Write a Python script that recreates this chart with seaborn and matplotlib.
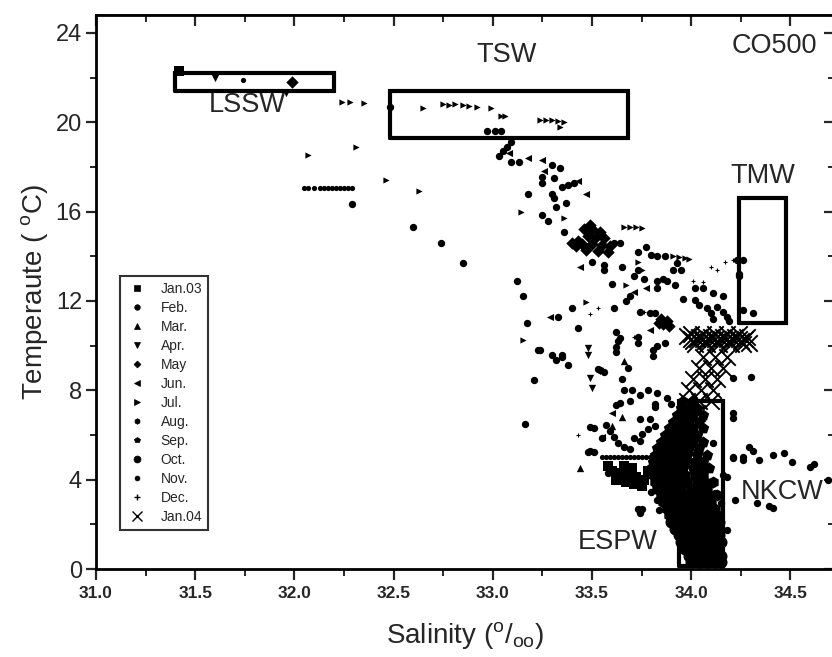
import matplotlib
matplotlib.use("Agg")
import matplotlib.pyplot as plt
from matplotlib.lines import Line2D
from matplotlib.ticker import MultipleLocator
import seaborn as sns
import pandas as pd

# ---------------- data (salinity, temperature) per month ----------------
months = ["Jan.03", "Feb.", "Mar.", "Apr.", "May", "Jun.", "Jul.", "Aug.",
          "Sep.", "Oct.", "Nov.", "Dec.", "Jan.04"]

jan03_pts = [(31.42, 22.3), (33.58, 4.6), (33.60, 4.4), (33.64, 4.3), (33.68, 4.2),
             (33.72, 4.1), (33.76, 4.0), (33.62, 4.0), (33.67, 3.9), (33.71, 3.8),
             (33.75, 3.7), (33.78, 4.4), (33.70, 4.5), (33.66, 4.6)]

feb_pts = [(32.29, 16.35), (32.60, 15.3), (32.74, 14.6), (32.85, 13.7), (33.12, 12.9),
           (33.15, 12.2), (33.17, 11.0), (33.23, 9.8), (33.30, 9.6), (33.35, 9.6),
           (33.40, 11.7), (33.33, 11.3), (33.43, 10.8), (32.48, 20.7),
           (32.97, 19.6), (33.01, 19.6), (33.04, 19.6), (33.03, 18.5), (33.05, 18.7),
           (33.07, 18.9), (33.09, 19.1), (33.09, 18.2), (33.13, 18.2), (33.30, 18.1),
           (33.34, 17.96), (33.25, 17.55), (33.25, 17.3), (33.31, 17.5), (33.35, 17.1),
           (33.38, 17.2), (33.41, 17.3), (33.18, 16.8), (33.30, 16.8), (33.31, 16.6),
           (33.32, 16.2), (33.37, 16.4), (33.25, 15.85), (33.28, 15.6), (33.36, 15.1),
           (33.61, 14.6), (33.64, 14.6), (33.73, 14.2), (33.77, 14.4), (33.80, 14.05),
           (33.83, 14.0), (33.87, 14.0), (33.93, 13.7), (33.50, 13.75), (33.56, 13.6),
           (33.56, 13.4), (33.65, 13.5), (33.71, 13.1), (33.76, 13.0), (33.73, 13.4),
           (33.83, 12.9), (33.86, 13.0), (33.88, 12.9), (33.92, 12.7), (33.91, 13.4),
           (33.95, 13.4), (33.60, 12.75), (33.83, 12.6), (33.69, 12.2), (33.67, 12.0),
           (33.61, 11.7), (33.79, 11.45), (33.82, 11.45), (33.74, 11.5), (33.62, 10.6),
           (33.64, 10.35), (33.73, 10.4), (33.73, 10.1), (33.62, 9.95), (33.62, 9.7),
           (33.83, 10.0), (33.87, 10.1), (33.81, 9.8), (33.81, 9.55), (33.24, 9.8),
           (33.32, 9.35), (33.35, 9.5), (33.38, 9.15), (33.53, 8.95), (33.56, 8.8),
           (34.02, 12.6), (34.06, 12.6), (34.11, 12.35), (34.16, 12.2), (33.96, 12.1),
           (34.02, 12.05), (34.04, 11.8), (34.08, 11.7), (34.13, 11.75), (34.10, 11.45),
           (34.11, 11.2), (34.16, 11.5), (34.18, 11.3), (34.19, 11.1), (34.24, 13.2),
           (34.24, 13.1), (34.26, 11.6), (34.31, 11.45), (33.21, 8.45), (33.16, 6.5),
           (33.48, 5.25), (33.51, 5.25), (33.63, 10.2), (33.65, 8.5), (33.66, 8.0),
           (33.70, 8.0), (33.74, 7.8), (33.78, 8.0), (33.83, 7.9), (33.69, 7.5),
           (33.82, 7.4), (33.82, 7.25), (33.88, 7.65), (33.90, 7.4), (33.74, 6.7),
           (33.78, 6.25), (33.82, 6.4), (33.79, 6.7), (33.71, 5.85), (33.74, 5.75),
           (33.75, 6.05), (33.63, 5.65), (33.66, 5.45), (33.69, 5.35), (33.49, 6.35),
           (33.51, 6.3), (33.55, 5.85), (33.57, 6.45), (33.59, 6.2), (33.61, 5.9),
           (33.62, 7.35), (33.64, 7.45), (33.54, 8.9), (33.68, 9.0), (33.49, 5.3),
           (33.73, 2.7), (33.74, 2.5), (33.75, 2.7), (33.83, 3.1), (33.84, 2.65),
           (33.80, 3.45), (33.58, 4.3), (33.61, 4.2), (34.21, 6.75), (34.21, 7.0),
           (34.11, 5.65), (34.21, 5.0), (34.16, 4.2), (34.18, 4.1), (34.11, 3.85),
           (34.12, 3.4), (34.15, 2.95), (34.18, 1.75), (34.10, 2.4), (34.21, 8.55),
           (34.30, 8.6), (34.21, 4.97), (34.26, 5.0), (34.26, 4.9), (34.29, 5.45),
           (34.31, 5.3), (34.34, 4.9), (34.41, 5.1), (34.47, 5.2), (34.51, 4.8),
           (34.60, 4.55), (34.62, 4.7), (34.22, 3.1), (34.33, 2.95), (34.39, 2.8),
           (34.41, 2.75), (34.69, 4.0), (34.23, 13.85), (34.26, 13.85)]

mar_pts = [(33.44, 4.5), (33.60, 6.4), (33.65, 6.8), (33.66, 9.3)]

apr_pts = [(31.60, 22.0), (31.96, 21.3), (33.48, 9.9), (33.48, 9.6), (33.49, 8.55),
           (33.50, 8.1), (33.54, 8.85)]

may_pts = [(31.99, 21.8), (33.46, 15.2), (33.50, 15.2), (33.54, 15.1), (33.48, 14.9),
           (33.52, 14.85), (33.56, 14.8), (33.45, 14.55), (33.50, 14.55), (33.55, 14.5),
           (33.59, 14.45), (33.47, 14.3), (33.53, 14.25), (33.58, 14.2), (33.49, 15.4),
           (33.43, 14.7), (33.40, 14.6), (33.42, 14.45), (33.85, 11.2), (33.88, 11.1),
           (33.86, 10.95), (33.89, 10.9), (33.84, 11.0)]

jun_pts = [(33.08, 18.6), (33.18, 18.4), (33.25, 18.3), (33.26, 17.8), (33.47, 16.8),
           (33.29, 11.3), (33.44, 13.5), (33.77, 12.6), (33.71, 12.4), (33.79, 10.7),
           (33.43, 17.35), (33.55, 5.9), (33.60, 7.0)]

jul_pts = [(32.07, 18.55), (32.31, 18.9), (32.46, 17.4), (32.63, 16.9), (32.24, 20.9),
           (32.28, 20.9), (32.35, 20.85), (32.65, 20.65), (32.75, 20.8), (32.78, 20.78),
           (32.81, 20.8), (32.85, 20.75), (32.88, 20.72), (32.92, 20.68), (32.99, 20.62),
           (33.04, 20.3), (33.06, 20.28), (33.24, 20.1), (33.27, 20.12), (33.30, 20.08),
           (33.33, 20.05), (33.36, 20.0), (33.34, 19.8), (33.15, 10.25), (33.14, 16.0),
           (33.36, 15.7), (33.47, 11.95), (33.66, 15.3), (33.69, 15.32), (33.72, 15.3),
           (33.75, 15.28), (33.67, 12.7), (33.75, 13.4), (33.91, 14.0), (33.94, 13.97),
           (33.97, 13.93), (33.99, 13.88), (33.73, 13.75)]

aug_pts = [(33.89, 2.4), (33.93, 2.4), (33.97, 2.4), (34.01, 2.4), (34.05, 2.4), (34.09, 2.4), (34.13, 2.4),
           (33.88, 2.7), (33.92, 2.7), (33.96, 2.7), (34.00, 2.7), (34.04, 2.7), (34.08, 2.7), (34.12, 2.7),
           (33.86, 3.0), (33.90, 3.0), (33.94, 3.0), (33.98, 3.0), (34.02, 3.0), (34.06, 3.0), (34.10, 3.0),
           (33.85, 3.3), (33.89, 3.3), (33.93, 3.3), (33.97, 3.3), (34.01, 3.3), (34.05, 3.3), (34.09, 3.3), (34.13, 3.3),
           (33.83, 3.6), (33.87, 3.6), (33.91, 3.6), (33.95, 3.6), (34.00, 3.6), (34.04, 3.6), (34.08, 3.6),
           (33.82, 3.9), (33.86, 3.9), (33.90, 3.9), (33.94, 3.9), (33.98, 3.9), (34.03, 3.9), (34.07, 3.9), (34.11, 3.9),
           (33.81, 4.2), (33.85, 4.2), (33.89, 4.2), (33.93, 4.2), (33.97, 4.2), (34.02, 4.2), (34.06, 4.2)]

sep_pts = [(33.80, 4.5), (33.84, 4.5), (33.88, 4.5), (33.92, 4.5), (33.96, 4.5), (34.01, 4.5), (34.05, 4.5), (34.09, 4.5),
           (33.81, 4.8), (33.85, 4.8), (33.89, 4.8), (33.93, 4.8), (33.97, 4.8), (34.02, 4.8), (34.06, 4.8),
           (33.82, 5.1), (33.86, 5.1), (33.90, 5.1), (33.94, 5.1), (33.98, 5.1), (34.03, 5.1), (34.08, 5.1),
           (33.83, 5.4), (33.87, 5.4), (33.91, 5.4), (33.95, 5.4), (33.99, 5.4), (34.04, 5.4),
           (33.85, 5.7), (33.89, 5.7), (33.93, 5.7), (33.97, 5.7), (34.01, 5.7), (34.06, 5.7),
           (33.87, 6.0), (33.91, 6.0), (33.95, 6.0), (33.99, 6.0), (34.03, 6.0),
           (33.89, 6.3), (33.93, 6.3), (33.97, 6.3), (34.01, 6.3), (34.06, 6.3),
           (33.91, 6.6), (33.95, 6.6), (33.99, 6.6), (34.04, 6.6),
           (33.93, 6.9), (33.97, 6.9), (34.01, 6.9), (34.06, 6.9),
           (33.95, 7.2), (33.99, 7.2), (34.03, 7.2), (33.96, 7.5), (34.01, 7.5)]

oct_pts = [(34.00, 0.3), (34.04, 0.3), (34.08, 0.3), (34.12, 0.3), (34.15, 0.3),
           (33.99, 0.6), (34.03, 0.6), (34.07, 0.6), (34.11, 0.6), (34.15, 0.6),
           (33.97, 0.9), (34.01, 0.9), (34.05, 0.9), (34.09, 0.9), (34.13, 0.9),
           (33.95, 1.2), (33.99, 1.2), (34.03, 1.2), (34.07, 1.2), (34.11, 1.2), (34.15, 1.2),
           (33.94, 1.5), (33.98, 1.5), (34.02, 1.5), (34.06, 1.5), (34.10, 1.5), (34.14, 1.5),
           (33.92, 1.8), (33.96, 1.8), (34.00, 1.8), (34.04, 1.8), (34.08, 1.8), (34.12, 1.8),
           (33.90, 2.1), (33.94, 2.1), (33.98, 2.1), (34.02, 2.1), (34.06, 2.1), (34.10, 2.1), (34.14, 2.1)]

nov_pts = [(31.74, 21.9), (32.05, 17.06), (32.07, 17.06), (32.10, 17.06), (32.13, 17.06),
           (32.15, 17.06), (32.17, 17.06), (32.19, 17.06), (32.21, 17.06), (32.23, 17.06),
           (32.25, 17.06), (32.27, 17.06), (32.29, 17.06),
           (33.55, 5.0), (33.57, 5.0), (33.59, 5.0), (33.61, 5.0), (33.63, 5.0), (33.65, 5.0),
           (33.67, 5.0), (33.69, 5.0), (33.71, 5.0), (33.73, 5.0), (33.75, 5.0), (33.77, 5.0),
           (33.79, 5.0)]

dec_pts = [(33.92, 12.7), (34.01, 12.9), (34.06, 12.85), (34.10, 13.5), (34.13, 13.4),
           (34.17, 13.75), (34.21, 13.85), (33.76, 11.5), (33.71, 10.4), (33.53, 11.7),
           (33.49, 11.4), (33.43, 6.0)]

jan04_pts = [(34.00, 10.3), (34.03, 10.3), (34.06, 10.3), (34.09, 10.3), (34.12, 10.3),
             (34.15, 10.3), (34.18, 10.3), (34.21, 10.3), (34.24, 10.3), (34.27, 10.3),
             (33.98, 10.45), (34.01, 10.2), (34.04, 10.4), (34.07, 10.2), (34.10, 10.4),
             (34.13, 10.2), (34.16, 10.4), (34.19, 10.2), (34.22, 10.4), (34.25, 10.2),
             (34.28, 10.4), (34.29, 10.1),
             (34.02, 10.05), (34.08, 10.05), (34.14, 10.05), (34.20, 10.05), (34.26, 10.05),
             (34.00, 10.5), (34.06, 10.5), (34.12, 10.5), (34.18, 10.5), (34.24, 10.5),
             (34.06, 9.5), (34.12, 9.5), (34.18, 9.5), (34.04, 9.0), (34.10, 9.0), (34.16, 9.0),
             (34.01, 8.5), (34.07, 8.5), (34.13, 8.5), (33.99, 8.0), (34.05, 8.0), (34.11, 8.0),
             (33.98, 7.5), (34.04, 7.5), (34.10, 7.5), (33.98, 7.0), (34.03, 7.0),
             (33.95, 6.3), (34.00, 6.3), (33.92, 5.8), (33.97, 5.8), (33.90, 5.3), (33.96, 5.3),
             (34.02, 5.3), (33.93, 4.8), (33.99, 4.8), (33.88, 4.3), (33.95, 4.3),
             (33.92, 3.8), (33.98, 3.8), (33.95, 3.2)]

# water-mass boxes: (S_min, S_max, T_min, T_max)
boxes = {"LSSW": (31.40, 32.20, 21.4, 22.2),
         "TSW": (32.48, 33.68, 19.3, 21.4),
         "TMW": (34.24, 34.48, 11.0, 16.6),
         "NKCW": (33.94, 34.16, 0.15, 7.5)}

labels_txt = [("CO500", 34.42, 23.4), ("TSW", 33.07, 23.0), ("LSSW", 31.76, 20.75),
              ("TMW", 34.36, 17.6), ("NKCW", 34.46, 3.45), ("ESPW", 33.63, 1.2)]

# ---------------- plotting ----------------
sns.set_theme(style="white")
plt.rcParams['font.family'] = ['Liberation Sans', 'DejaVu Sans']
plt.rcParams['mathtext.fontset'] = 'custom'
plt.rcParams['mathtext.rm'] = 'Liberation Sans'
plt.rcParams['mathtext.it'] = 'Liberation Sans'

fig = plt.figure(figsize=(8.32, 6.57), dpi=100)
ax = fig.add_axes([96 / 832, 88 / 657, 738 / 832, 554 / 657])

series = [
    (jan03_pts, "s", 45, 0),
    (feb_pts, "o", 28, 0),
    (mar_pts, "^", 28, 0),
    (apr_pts, "v", 28, 0),
    (may_pts, "D", 40, 0),
    (jun_pts, "<", 26, 0),
    (jul_pts, ">", 20, 0),
    (aug_pts, "h", 75, 0),
    (sep_pts, "p", 75, 0),
    (oct_pts, "o", 75, 0),
    (nov_pts, "o", 14, 0),
    (dec_pts, "+", 10, 0.8),
    (jan04_pts, "x", 140, 1.4),
]

for (pts, mk, sz, lw), name in zip(series, months):
    df = pd.DataFrame(pts, columns=["S", "T"])
    kw = dict(edgecolor="black") if mk not in ("x", "+") else {}
    sns.scatterplot(data=df, x="S", y="T", marker=mk, s=sz, color="black",
                    linewidth=lw, ax=ax, legend=False, zorder=3, **kw)

for name, (s0, s1, t0, t1) in boxes.items():
    ax.plot([s0, s1, s1, s0, s0], [t0, t0, t1, t1, t0], color="black", lw=3.0,
            solid_joinstyle="miter", zorder=4)

for txt, sx, ty in labels_txt:
    ax.text(sx, ty, txt, fontsize=19.5, ha="center", va="center", zorder=5)

ax.set_xlim(31.0, 34.72)
ax.set_ylim(0, 24.8)
ax.xaxis.set_major_locator(MultipleLocator(0.5))
ax.xaxis.set_minor_locator(MultipleLocator(0.25))
ax.yaxis.set_major_locator(MultipleLocator(4))
ax.yaxis.set_minor_locator(MultipleLocator(2))
ax.xaxis.set_major_formatter(matplotlib.ticker.FormatStrFormatter("%.1f"))

for sp in ax.spines.values():
    sp.set_linewidth(2.0)
    sp.set_color("black")

ax.tick_params(axis="x", which="major", direction="out", length=8, width=1.6,
               labelsize=12.5, top=False, bottom=True, pad=4)
ax.tick_params(axis="x", which="minor", direction="out", length=5, width=1.4, bottom=True)
ax.tick_params(axis="y", which="major", direction="out", length=7, width=1.6,
               labelsize=17, left=True, pad=3)
ax.tick_params(axis="y", which="minor", direction="out", length=4, width=1.4, left=True)
for lab in ax.get_xticklabels():
    lab.set_fontweight("bold")

# mirrored inward ticks on top and right
secx = ax.secondary_xaxis("top")
secx.xaxis.set_major_locator(MultipleLocator(0.5))
secx.xaxis.set_minor_locator(MultipleLocator(0.25))
secx.tick_params(which="major", direction="in", length=8, width=1.6, labeltop=False)
secx.tick_params(which="minor", direction="in", length=5, width=1.4)
secy = ax.secondary_yaxis("right")
secy.yaxis.set_major_locator(MultipleLocator(4))
secy.yaxis.set_minor_locator(MultipleLocator(2))
secy.tick_params(which="major", direction="in", length=7, width=1.6, labelright=False)
secy.tick_params(which="minor", direction="in", length=4, width=1.4)

ax.set_xlabel(r"Salinity ($^{\mathrm{o}}/_{\mathrm{oo}}$)", fontsize=20, labelpad=14)
ax.set_ylabel(r"Temperaute ( $^{\mathrm{o}}$C)", fontsize=20, labelpad=4)

legend_markers = ["s", "o", "^", "v", "D", "<", ">", "h", "p", "o", "o", "+", "x"]
legend_sizes = [4, 4, 4, 4.5, 3.5, 4, 4, 4, 4, 5, 3.5, 4, 7]
handles = [Line2D([], [], ls="", marker=m, markersize=ms, color="black",
                  markeredgewidth=1.0 if m in ("x", "+") else 0.5)
           for m, ms in zip(legend_markers, legend_sizes)]
leg = ax.legend(handles, months, loc="lower left", bbox_to_anchor=(0.032, 0.07),
                fontsize=10, frameon=True, fancybox=False, handletextpad=0.9,
                labelspacing=0.36, borderpad=0.45, handlelength=1.6, borderaxespad=0)
leg.get_frame().set_edgecolor("black")
leg.get_frame().set_linewidth(1.5)

fig.savefig("out.png", dpi=100)
